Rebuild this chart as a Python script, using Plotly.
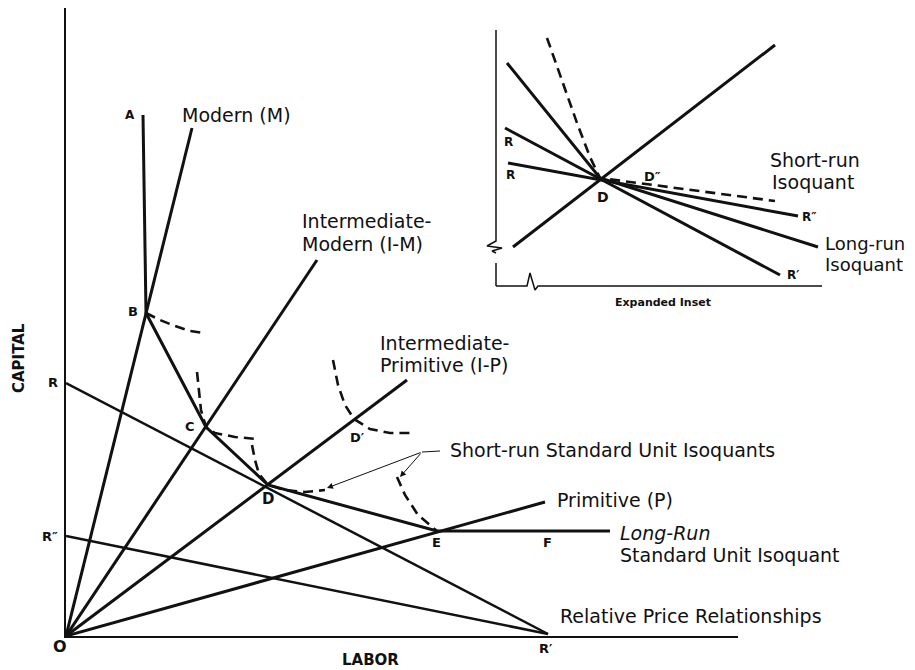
import plotly.graph_objects as go

# ---------------- main diagram data (LABOR, CAPITAL units) ----------------
ray_modern = {"x": [0, 126], "y": [0, 508]}
ray_im = {"x": [0, 251], "y": [0, 376]}
ray_ip = {"x": [0, 341], "y": [0, 256]}
ray_p = {"x": [0, 479], "y": [0, 134]}

# long-run standard unit isoquant A-B-C-D-E-F
lr_x = [77, 80, 140, 202, 371, 544]
lr_y = [521, 323, 209, 151, 105, 105]

# relative price lines
price_rr1_x = [0, 482]
price_rr1_y = [253, 2]
price_rr2_x = [0, 482]
price_rr2_y = [100, 2]

# short-run standard unit isoquants (dashed)
sr_b_x = [80, 94, 109, 124, 137]
sr_b_y = [323, 316, 310, 305, 303]
sr_c_x = [131, 133, 135, 140, 149, 169, 191]
sr_c_y = [264, 244, 226, 209, 203, 199, 197]
sr_d_x = [186, 189, 193, 202, 219, 239, 259]
sr_d_y = [191, 176, 162, 151, 146, 144, 146]
sr_dp_x = [267, 272, 279, 288, 304, 324, 349]
sr_dp_y = [276, 251, 231, 217, 207, 203, 203]
sr_e_x = [331, 339, 352, 371]
sr_e_y = [159, 141, 121, 105]

# leader for "Short-run Standard Unit Isoquants"
leader_x = [356, 374]
leader_y = [184, 185]
arrow_tips_x = [261, 334]
arrow_tips_y = [148, 159]

# ---------------- inset data ----------------
in_yaxis_top_x = [0, 0, -9, 6, -4, 0]
in_yaxis_top_y = [256, 45, 40, 38, 35, 33]
in_yaxis_bot_x = [0, 0]
in_yaxis_bot_y = [23, 0]
in_xaxis_x = [0, 31, 34, 39, 42, 326]
in_xaxis_y = [0, 0, 13, -4, 0, 0]
in_ray_x = [17, 279]
in_ray_y = [39, 241]
in_lr_x = [11, 104, 322]
in_lr_y = [223, 108, 39]
in_rr1_x = [9, 284]
in_rr1_y = [158, 11]
in_rr2_x = [12, 302]
in_rr2_y = [123, 70]
in_sr_x = [51, 65, 81, 94, 104, 279]
in_sr_y = [248, 208, 163, 129, 108, 85]

# ---------------- geometry (window pixels) ----------------
OFF = 8                       # default page margin of the html body
W, H = 915 - OFF, 670 - OFF   # figure size
main_px = dict(left=66, right=738, top=8, bottom=636)
in_range_x = [-15, 330]
in_range_y = [-10, 260]
inset_px = dict(left=481, right=826, top=26, bottom=296)

INK = "#111111"
FONT = "DejaVu Sans"
DASH = "10px,6px"

fig = go.Figure()


def line(x, y, width=3, dash="solid", axes=("x", "y")):
    fig.add_trace(go.Scatter(
        x=x, y=y, mode="lines", xaxis=axes[0], yaxis=axes[1],
        line=dict(color=INK, width=width, dash=dash),
        showlegend=False, hoverinfo="skip"))


# main
for r in (ray_modern, ray_im, ray_ip, ray_p):
    line(r["x"], r["y"])
line(lr_x, lr_y)
line(price_rr1_x, price_rr1_y, width=2.5)
line(price_rr2_x, price_rr2_y, width=2.5)
for cx, cy in ((sr_b_x, sr_b_y), (sr_c_x, sr_c_y), (sr_d_x, sr_d_y),
               (sr_dp_x, sr_dp_y), (sr_e_x, sr_e_y)):
    line(cx, cy, width=2.6, dash=DASH)
line(leader_x, leader_y, width=1)

# inset
IA = ("x2", "y2")
line(in_yaxis_top_x, in_yaxis_top_y, width=1.5, axes=IA)
line(in_yaxis_bot_x, in_yaxis_bot_y, width=1.5, axes=IA)
line(in_xaxis_x, in_xaxis_y, width=1.5, axes=IA)
line(in_ray_x, in_ray_y, axes=IA)
line(in_lr_x, in_lr_y, axes=IA)
line(in_rr1_x, in_rr1_y, axes=IA)
line(in_rr2_x, in_rr2_y, axes=IA)
line(in_sr_x, in_sr_y, width=2.6, dash=DASH, axes=IA)


def to_paper(x, y, inset=False):
    if inset:
        px = inset_px["left"] + (x - in_range_x[0])
        py = inset_px["bottom"] - (y - in_range_y[0])
    else:
        px = main_px["left"] + x
        py = main_px["bottom"] - y
    return (px - OFF) / W, 1 - (py - OFF) / H


ann = []


def txt(x, y, s, size=19, xanchor="left", bold=False, italic=False,
        inset=False, angle=0):
    xp, yp = to_paper(x, y, inset)
    ann.append(dict(
        x=xp, y=yp, xref="paper", yref="paper", text=s, showarrow=False,
        xanchor=xanchor, yanchor="middle", textangle=angle,
        font=dict(family=FONT, size=size, color=INK,
                  weight="bold" if bold else "normal",
                  style="italic" if italic else "normal")))


# leader arrows
for tx, ty in zip(arrow_tips_x, arrow_tips_y):
    ann.append(dict(x=tx, y=ty, xref="x", yref="y", ax=leader_x[0], ay=leader_y[0],
                    axref="x", ayref="y", text="", showarrow=True,
                    arrowhead=2, arrowsize=1.2, arrowwidth=1, arrowcolor=INK))

# main labels
txt(114, 521, "Modern (M)")
txt(234, 415, "Intermediate-")
txt(234, 392, "Modern (I-M)")
txt(312, 293, "Intermediate-")
txt(312, 271, "Primitive (I-P)")
txt(382, 186, "Short-run Standard Unit Isoquants")
txt(489, 136, "Primitive (P)")
txt(552, 103, "Long-Run", italic=True)
txt(552, 81, "Standard Unit Isoquant")
txt(492, 20, "Relative Price Relationships")

txt(64, 521, "A", size=12, xanchor="center", bold=True)
txt(67, 325, "B", size=13, xanchor="center", bold=True)
txt(124, 210, "C", size=13, xanchor="center", bold=True)
txt(202, 137, "D", size=15, xanchor="center", bold=True)
txt(291, 199, "D′", size=13, xanchor="center", bold=True)
txt(370, 94, "E", size=13, xanchor="center", bold=True)
txt(481, 94, "F", size=13, xanchor="center", bold=True)
txt(-13, 254, "R", size=13, xanchor="center", bold=True)
txt(-16, 100, "R″", size=13, xanchor="center", bold=True)
txt(480, -12, "R′", size=13, xanchor="center", bold=True)
txt(-6, -10, "O", size=16, xanchor="center", bold=True)
txt(-47, 278, "CAPITAL", size=15, xanchor="center", bold=True, angle=-90)
txt(304, -24, "LABOR", size=15, xanchor="center", bold=True)

# inset labels
txt(12, 144, "R", size=12, xanchor="center", bold=True, inset=True)
txt(14, 111, "R", size=12, xanchor="center", bold=True, inset=True)
txt(107, 89, "D", size=14, xanchor="center", bold=True, inset=True)
txt(156, 110, "D″", size=13, xanchor="center", bold=True, inset=True)
txt(304, 69, "R″", size=12, bold=True, inset=True)
txt(289, 11, "R′", size=12, bold=True, inset=True)
txt(272, 126, "Short-run", inset=True)
txt(274, 104, "Isoquant", inset=True)
txt(327, 43, "Long-run", size=18, inset=True)
txt(327, 22, "Isoquant", size=18, inset=True)
txt(167, -16, "Expanded Inset", size=11, xanchor="center", bold=True, inset=True)

fig.update_layout(
    width=W, height=H,
    margin=dict(l=0, r=0, t=0, b=0),
    paper_bgcolor="white", plot_bgcolor="rgba(0,0,0,0)",
    showlegend=False,
    annotations=ann,
    xaxis=dict(domain=[(main_px["left"] - OFF) / W, (main_px["right"] - OFF) / W],
               range=[0, main_px["right"] - main_px["left"]],
               showgrid=False, zeroline=False, showticklabels=False, ticks="",
               showline=True, linecolor=INK, linewidth=2, anchor="y"),
    yaxis=dict(domain=[1 - (main_px["bottom"] - OFF) / H, 1 - (main_px["top"] - OFF) / H],
               range=[0, main_px["bottom"] - main_px["top"]],
               showgrid=False, zeroline=False, showticklabels=False, ticks="",
               showline=True, linecolor=INK, linewidth=2, anchor="x"),
    xaxis2=dict(domain=[(inset_px["left"] - OFF) / W, (inset_px["right"] - OFF) / W],
                range=in_range_x, visible=False, anchor="y2"),
    yaxis2=dict(domain=[1 - (inset_px["bottom"] - OFF) / H, 1 - (inset_px["top"] - OFF) / H],
                range=in_range_y, visible=False, anchor="x2"),
)

fig.write_html("out.html", config={"displayModeBar": False})
